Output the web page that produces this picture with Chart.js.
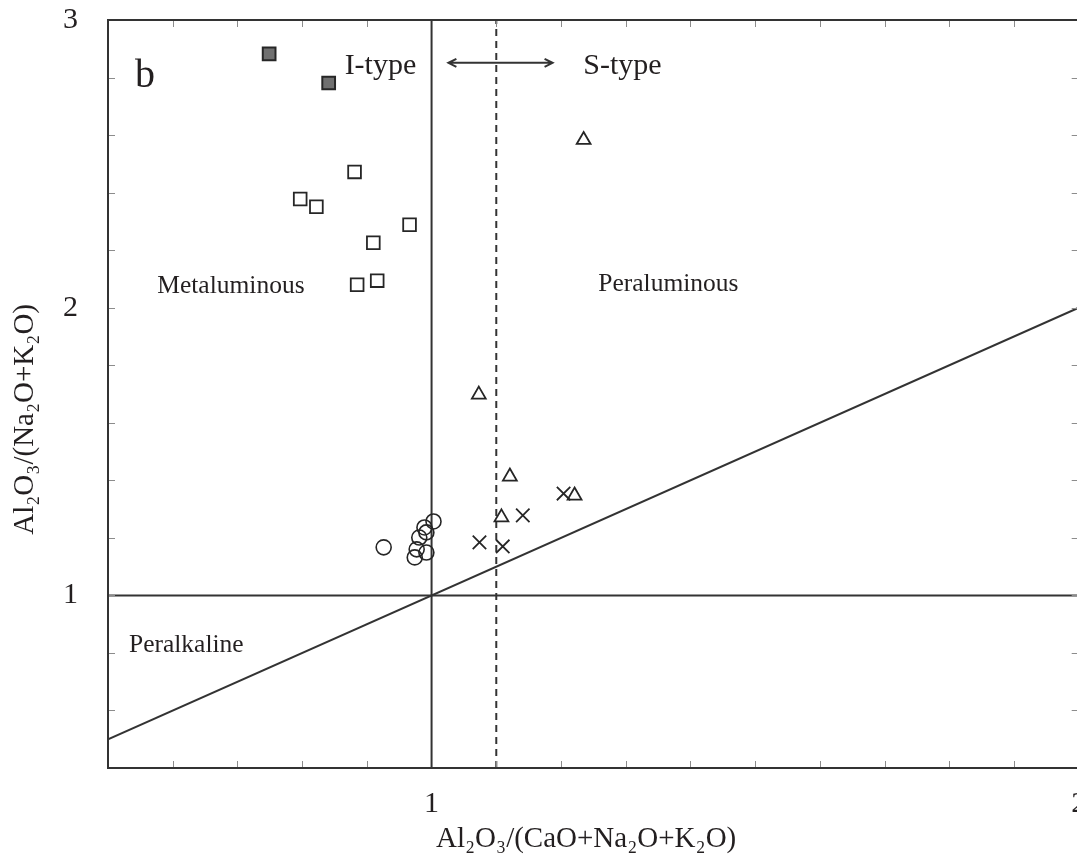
<!DOCTYPE html>
<html><head><meta charset="utf-8">
<script src="https://cdn.jsdelivr.net/npm/chart.js@4.4.1/dist/chart.umd.min.js"></script>
<style>html,body{margin:0;padding:0;overflow:hidden;background:#fff;width:1077px;height:857px}
#wrap{width:1090px;height:857px}</style></head>
<body><div id="wrap"><canvas id="c" width="1090" height="857"></canvas></div>
<script>
// ---- data ----
const filledSquaresX = [0.749, 0.841];
const filledSquaresY = [2.882, 2.781];
const openSquaresX = [0.881, 0.797, 0.822, 0.966, 0.910, 0.885, 0.916];
const openSquaresY = [2.472, 2.378, 2.351, 2.288, 2.226, 2.080, 2.094];
const trianglesX = [1.235, 1.073, 1.121, 1.108, 1.221];
const trianglesY = [2.583, 1.698, 1.413, 1.271, 1.347];
const crossesX = [1.074, 1.110, 1.141, 1.204];
const crossesY = [1.184, 1.170, 1.278, 1.354];
const circlesX = [0.926, 1.003, 0.989, 0.992, 0.981, 0.977, 0.992, 0.974];
const circlesY = [1.167, 1.257, 1.236, 1.219, 1.201, 1.160, 1.149, 1.132];
const xTickLabels = [1, 2];
const yTickLabels = [1, 2, 3];
const xRange = [0.5, 2];
const yRange = [0.4, 3];
const xMinorStep = 0.1;
const yMinorStep = 0.2;
// reference boundaries
const acnkBoundary = 1.0;      // A/CNK = 1
const ankBoundary = 1.0;       // A/NK = 1
const isTypeBoundary = 1.1;    // I/S-type divide
const diagonalX = [0.5, 2];
const diagonalY = [0.5, 2];
const xTitle = 'Al\u2082O\u2083/(CaO+Na\u2082O+K\u2082O)';
const yTitle = 'Al\u2082O\u2083/(Na\u2082O+K\u2082O)';
const labelTexts = ['b', 'I-type', 'S-type', 'Metaluminous', 'Peraluminous', 'Peralkaline'];
const labelX = [0.557, 0.921, 1.295, 0.690, 1.366, 0.621];
const labelY = [2.767, 2.8125, 2.8125, 2.052, 2.059, 0.802];
const labelSize = [40, 30, 30, 25.5, 25.5, 25.5];
const arrowX = [1.026, 1.187];
const arrowY = 2.851;

const pts = (xs, ys) => xs.map((v, i) => ({x: v, y: ys[i]}));
const INK = '#262626';
const SERIF = '"Liberation Serif", "Times New Roman", serif';

const lineDs = (data, dash) => ({
  type: 'line', data, borderColor: '#333', borderWidth: 2, borderDash: dash || [],
  pointRadius: 0, fill: false, showLine: true, order: 10
});

const framePlugin = {
  id: 'frame',
  afterDraw(chart) {
    const {ctx, chartArea: a, scales: {x, y}} = chart;
    ctx.save();
    // inward minor ticks on all four sides
    ctx.strokeStyle = '#8c8c8c';
    ctx.lineWidth = 1;
    ctx.beginPath();
    x.ticks.forEach(t => {
      const px = Math.round(x.getPixelForValue(t.value)) + 0.5;
      ctx.moveTo(px, a.bottom); ctx.lineTo(px, a.bottom - 7);
      ctx.moveTo(px, a.top); ctx.lineTo(px, a.top + 7);
    });
    y.ticks.forEach(t => {
      const py = Math.round(y.getPixelForValue(t.value)) + 0.5;
      ctx.moveTo(a.left, py); ctx.lineTo(a.left + 7, py);
      ctx.moveTo(a.right, py); ctx.lineTo(a.right - 7, py);
    });
    ctx.stroke();
    // frame
    ctx.strokeStyle = '#333';
    ctx.lineWidth = 2;
    ctx.strokeRect(a.left, a.top, a.right - a.left, a.bottom - a.top);
    // region labels
    ctx.fillStyle = '#231f20';
    ctx.textAlign = 'center';
    ctx.textBaseline = 'alphabetic';
    labelTexts.forEach((t, i) => {
      ctx.font = labelSize[i] + 'px ' + SERIF;
      ctx.fillText(t, x.getPixelForValue(labelX[i]), y.getPixelForValue(labelY[i]));
    });
    // double-headed arrow
    const ax1 = x.getPixelForValue(arrowX[0]), ax2 = x.getPixelForValue(arrowX[1]);
    const ay = y.getPixelForValue(arrowY);
    ctx.strokeStyle = '#333';
    ctx.lineWidth = 2;
    ctx.beginPath();
    ctx.moveTo(ax1 + 1, ay); ctx.lineTo(ax2 - 1, ay);
    ctx.moveTo(ax1 + 8, ay - 4); ctx.lineTo(ax1, ay); ctx.lineTo(ax1 + 8, ay + 4);
    ctx.moveTo(ax2 - 8, ay - 4); ctx.lineTo(ax2, ay); ctx.lineTo(ax2 - 8, ay + 4);
    ctx.stroke();
    ctx.restore();
  }
};

const tickCb = (labels) => (v) => {
  const r = Math.round(v);
  return (Math.abs(v - r) < 1e-6 && labels.includes(r)) ? String(r) : '';
};

new Chart(document.getElementById('c'), {
  type: 'scatter',
  data: {
    datasets: [
      lineDs([{x: xRange[0], y: ankBoundary}, {x: xRange[1], y: ankBoundary}]),
      lineDs([{x: acnkBoundary, y: yRange[0]}, {x: acnkBoundary, y: yRange[1]}]),
      lineDs([{x: isTypeBoundary, y: yRange[0]}, {x: isTypeBoundary, y: yRange[1]}], [7, 5]),
      lineDs(pts(diagonalX, diagonalY)),
      {label: 'filled squares', data: pts(filledSquaresX, filledSquaresY), pointStyle: 'rect',
       pointRadius: 9, backgroundColor: '#707070', borderColor: INK, borderWidth: 2, order: 1},
      {label: 'open squares', data: pts(openSquaresX, openSquaresY), pointStyle: 'rect',
       pointRadius: 9, backgroundColor: 'rgba(255,255,255,0)', borderColor: INK, borderWidth: 1.8, order: 1},
      {label: 'triangles', data: pts(trianglesX, trianglesY), pointStyle: 'triangle',
       pointRadius: 8, backgroundColor: 'rgba(255,255,255,0)', borderColor: INK, borderWidth: 1.8, order: 1},
      {label: 'crosses', data: pts(crossesX, crossesY), pointStyle: 'crossRot',
       pointRadius: 9.5, backgroundColor: 'rgba(255,255,255,0)', borderColor: INK, borderWidth: 1.8, order: 1},
      {label: 'circles', data: pts(circlesX, circlesY), pointStyle: 'circle',
       pointRadius: 7.5, backgroundColor: 'rgba(255,255,255,0)', borderColor: INK, borderWidth: 1.6, order: 1}
    ]
  },
  options: {
    responsive: false,
    animation: false,
    events: [],
    layout: {padding: {top: 20, right: 4, bottom: 0, left: 0}},
    plugins: {legend: {display: false}, tooltip: {enabled: false}},
    scales: {
      x: {
        type: 'linear', min: xRange[0], max: xRange[1],
        grid: {display: false, drawTicks: false},
        border: {display: false},
        ticks: {stepSize: xMinorStep, autoSkip: false, maxRotation: 0, padding: 18,
                color: '#231f20', font: {family: SERIF, size: 30}, callback: tickCb(xTickLabels)},
        title: {display: true, text: xTitle + '\u00a0\u00a0', color: '#231f20',
                font: {family: SERIF, size: 29}, padding: {top: 0, bottom: 0}},
        afterFit: (s) => { s.height = 89; s.paddingLeft = 0; s.paddingRight = 0; }
      },
      y: {
        type: 'linear', min: yRange[0], max: yRange[1],
        grid: {display: false, drawTicks: false},
        border: {display: false},
        ticks: {stepSize: yMinorStep, autoSkip: false, padding: 30,
                color: '#231f20', font: {family: SERIF, size: 30}, callback: tickCb(yTickLabels)},
        title: {display: true, text: yTitle + '\u00a0'.repeat(7), color: '#231f20',
                font: {family: SERIF, size: 29}, padding: {top: 8, bottom: 0}},
        afterFit: (s) => { s.width = 108; s.paddingTop = 0; s.paddingBottom = 0; }
      }
    }
  },
  plugins: [framePlugin]
});
</script>
</body></html>
